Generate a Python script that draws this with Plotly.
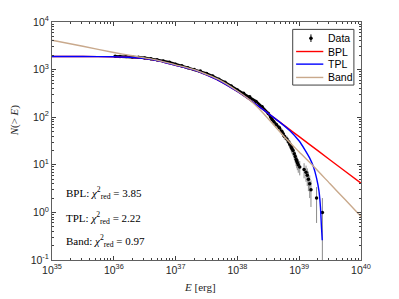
import plotly.graph_objects as go

# ---------------- data ----------------
data_E = [1.05e36, 1.26e36, 1.58e36, 2.00e36, 2.51e36, 3.16e36, 3.98e36, 5.01e36, 6.31e36, 7.94e36,
          1.00e37, 1.26e37, 1.58e37, 2.00e37, 2.51e37, 3.16e37, 3.98e37, 5.01e37, 6.31e37, 7.94e37,
          1.00e38, 1.26e38, 1.58e38, 2.00e38, 2.51e38, 3.16e38, 3.47e38, 3.63e38, 3.89e38, 4.27e38,
          4.79e38, 5.25e38, 5.50e38, 5.75e38, 6.31e38, 6.76e38, 7.08e38, 7.41e38, 7.59e38, 7.94e38,
          8.32e38, 8.61e38, 8.91e38, 9.12e38, 9.33e38, 9.66e38, 1.02e39, 1.20e39, 1.29e39, 1.35e39,
          1.41e39, 1.48e39, 1.55e39, 1.91e39, 2.37e39]
data_N = [1900, 1895, 1880, 1850, 1810, 1760, 1690, 1610, 1520, 1420,
          1300, 1200, 1100, 1010, 930, 830, 730, 630, 540, 450,
          375, 320, 270, 215, 165, 120, 100, 90, 80, 70,
          60, 50, 45, 40, 35, 30, 27, 24, 22, 20,
          17, 15, 13, 12, 11, 10, 9, 8, 7, 6,
          5, 4, 3, 2, 1]
data_err_plus = [43.6, 43.5, 43.4, 43.0, 42.5, 42.0, 41.1, 40.1, 39.0, 37.7,
                 36.1, 34.6, 33.2, 31.8, 30.5, 28.8, 27.0, 25.1, 23.2, 21.2,
                 19.4, 17.9, 16.4, 14.7, 12.8, 11.0, 10.0, 9.5, 8.9, 8.4,
                 7.7, 7.1, 6.7, 6.3, 5.9, 5.5, 5.2, 4.9, 4.7, 4.5,
                 4.1, 3.9, 3.6, 3.5, 3.3, 3.2, 3.0, 2.8, 2.6, 2.4,
                 2.2, 2.0, 1.7, 1.4, 1.0]
data_err_minus = [43.6, 43.5, 43.4, 43.0, 42.5, 42.0, 41.1, 40.1, 39.0, 37.7,
                  36.1, 34.6, 33.2, 31.8, 30.5, 28.8, 27.0, 25.1, 23.2, 21.2,
                  19.4, 17.9, 16.4, 14.7, 12.8, 11.0, 10.0, 9.5, 8.9, 8.4,
                  7.7, 7.1, 6.7, 6.3, 5.9, 5.5, 5.2, 4.9, 4.7, 4.5,
                  4.1, 3.9, 3.6, 3.5, 3.3, 3.2, 3.0, 2.8, 2.6, 2.4,
                  2.2, 2.0, 1.7, 1.4, 0.999]

bpl_E = [1e35, 3.16e35, 1e36, 2e36, 3.16e36, 5.01e36, 1e37, 2e37, 3.16e37, 5.01e37,
         1e38, 2e38, 3.39e38, 6.31e38, 1e39, 2e39, 5.01e39, 1e40]
bpl_N = [1880, 1880, 1860, 1800, 1700, 1550, 1230, 980, 776, 590,
         347, 186, 112, 61, 39, 19.8, 8.05, 4.1]

tpl_E = [1e35, 3.16e35, 1e36, 2e36, 3.16e36, 5.01e36, 1e37, 2e37, 3.16e37, 5.01e37,
         1e38, 2e38, 3.39e38, 5.01e38, 7.08e38, 1e39, 1.23e39, 1.48e39, 1.70e39, 1.91e39,
         2.09e39, 2.21e39, 2.29e39, 2.36e39]
tpl_N = [1880, 1880, 1860, 1800, 1700, 1550, 1230, 980, 776, 590,
         347, 186, 112, 76, 52, 31.6, 20.9, 13.8, 9.1, 5.25,
         2.8, 1.26, 0.5, 0.26]

band_E = [1e35, 3.16e35, 1e36, 2e36, 3.16e36, 5.01e36, 1e37, 2e37, 3.16e37, 5.01e37,
          1e38, 1.58e38, 2.51e38, 3.98e38, 6.31e38, 1e39, 1.70e39, 3.16e39, 5.62e39, 1e40]
band_N = [4140, 3090, 2290, 1950, 1760, 1585, 1260, 1000, 794, 617,
          355, 229, 129, 66, 33.9, 18.6, 9.3, 3.98, 1.82, 0.817]

x_tick_vals = [1e35, 1e36, 1e37, 1e38, 1e39, 1e40]
x_tick_text = ["10<sup>35</sup>", "10<sup>36</sup>", "10<sup>37</sup>",
               "10<sup>38</sup>", "10<sup>39</sup>", "10<sup>40</sup>"]
y_tick_vals = [1e-1, 1e0, 1e1, 1e2, 1e3, 1e4]
y_tick_text = ["10<sup>-1</sup>", "10<sup>0</sup>", "10<sup>1</sup>",
               "10<sup>2</sup>", "10<sup>3</sup>", "10<sup>4</sup>"]

legend_names = ["Data", "BPL", "TPL", "Band"]
legend_colors = ["black", "#ff0000", "#0000ff", "#c9a98c"]

chi_labels = ["BPL: <i>χ</i><sup>2</sup><sub>red</sub> = 3.85",
              "TPL: <i>χ</i><sup>2</sup><sub>red</sub> = 2.22",
              "Band: <i>χ</i><sup>2</sup><sub>red</sub> = 0.97"]

# ---------------- figure ----------------
fig = go.Figure()

n_dense = 40
fig.add_trace(go.Scatter(x=data_E[:n_dense], y=data_N[:n_dense], mode="lines",
                         line=dict(color="black", width=2.6), showlegend=False,
                         hoverinfo="skip"))
fig.add_trace(go.Scatter(x=data_E, y=data_N, mode="markers", name=legend_names[0],
                         marker=dict(color=legend_colors[0], size=3.5),
                         error_y=dict(type="data", array=data_err_plus,
                                      arrayminus=data_err_minus, symmetric=False,
                                      color="#8a8a8a", thickness=1, width=0)))
for name, color, xs, ys_ in [(legend_names[1], legend_colors[1], bpl_E, bpl_N),
                             (legend_names[2], legend_colors[2], tpl_E, tpl_N),
                             (legend_names[3], legend_colors[3], band_E, band_N)]:
    fig.add_trace(go.Scatter(x=xs, y=ys_, mode="lines", name=name,
                             line=dict(color=color, width=1.4, shape="spline", smoothing=0.6)))

# chi^2 annotations
for txt, yy in zip(chi_labels, [0.282, 0.177, 0.080]):
    fig.add_annotation(x=0.038, y=yy, xref="paper", yref="paper", text=txt,
                       showarrow=False, xanchor="left", yanchor="middle",
                       font=dict(family="Liberation Serif", size=11, color="black"))

# ---- compact legend box (drawn in paper coordinates) ----
L_x0, L_x1, L_y0, L_y1 = 0.779, 0.977, 0.735, 0.969
fig.add_shape(type="rect", xref="paper", yref="paper", x0=L_x0, x1=L_x1, y0=L_y0, y1=L_y1,
              line=dict(color="#404040", width=1), fillcolor="white", layer="above")
entry_y = [0.932, 0.876, 0.823, 0.767]
for i, (name, color) in enumerate(zip(legend_names, legend_colors)):
    yy = entry_y[i]
    if i == 0:
        fig.add_shape(type="line", xref="paper", yref="paper", x0=0.838, x1=0.838,
                      y0=yy - 0.016, y1=yy + 0.016, line=dict(color="black", width=1),
                      layer="above")
        fig.add_shape(type="circle", xref="paper", yref="paper",
                      xsizemode="pixel", ysizemode="pixel", xanchor=0.838, yanchor=yy,
                      x0=-1.8, x1=1.8, y0=-1.8, y1=1.8,
                      fillcolor="black", line=dict(color="black", width=0), layer="above")
    else:
        fig.add_shape(type="line", xref="paper", yref="paper", x0=0.790, x1=0.878,
                      y0=yy, y1=yy, line=dict(color=color, width=1.4), layer="above")
    fig.add_annotation(x=0.887, y=yy, xref="paper", yref="paper", text=name,
                       showarrow=False, xanchor="left", yanchor="middle",
                       font=dict(family="Liberation Sans", size=10.5, color="black"))

# axis titles
fig.add_annotation(x=0.479, y=-0.113, xref="paper", yref="paper", text="<i>E</i> [erg]",
                   showarrow=False, xanchor="center", yanchor="middle",
                   font=dict(family="Liberation Serif", size=11, color="#262626"))
fig.add_annotation(x=-0.122, y=0.588, xref="paper", yref="paper",
                   text="<i>N</i>(&gt; <i>E</i>)", textangle=-90,
                   showarrow=False, xanchor="center", yanchor="middle",
                   font=dict(family="Liberation Serif", size=11, color="#262626"))

minor_x = [m * 10.0 ** k for k in range(35, 40) for m in range(2, 10)]
minor_y = [m * 10.0 ** k for k in range(-1, 4) for m in range(2, 10)]

axis_common = dict(type="log", showgrid=False, zeroline=False, showline=True,
                   linecolor="#606060", linewidth=1, mirror="ticks",
                   ticks="inside", ticklen=4, tickcolor="#404040",
                   tickfont=dict(family="Liberation Sans", size=10.5, color="#262626"))

fig.update_xaxes(**axis_common, range=[35, 40], tickmode="array",
                 tickvals=x_tick_vals, ticktext=x_tick_text,
                 minor=dict(tickmode="array", tickvals=minor_x, ticks="inside",
                            ticklen=2, tickcolor="#404040"))
fig.update_yaxes(**axis_common, range=[-1, 4], tickmode="array",
                 tickvals=y_tick_vals, ticktext=y_tick_text,
                 minor=dict(tickmode="array", tickvals=minor_y, ticks="inside",
                            ticklen=2, tickcolor="#404040"))

fig.update_layout(width=399, height=299, paper_bgcolor="white", plot_bgcolor="white",
                  margin=dict(l=52, r=38, t=22, b=39), showlegend=False)

fig.write_html("out.html", config={"displayModeBar": False},
               post_script="document.body.style.margin='0';")
